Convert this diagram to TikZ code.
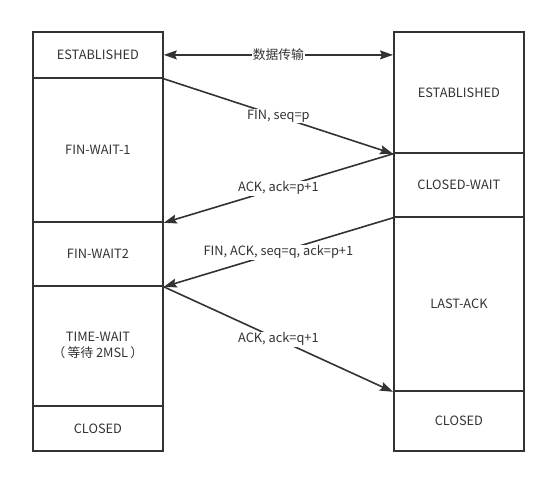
\documentclass[tikz,border=0pt]{standalone}
\usepackage{fontspec}
\setmainfont{Noto Sans CJK SC}
\usetikzlibrary{arrows.meta}
\definecolor{ink}{HTML}{333333}
\begin{document}
\begin{tikzpicture}[x=1pt,y=-1pt,
  state/.style={draw=ink,line width=1.8pt,rectangle,minimum width=130pt,anchor=north west,inner sep=0pt,text=ink,font=\fontsize{12.8}{16}\selectfont,align=center},
  msg/.style={draw=ink,line width=1.6pt,-{Stealth[length=13pt,width=9pt,inset=2pt]}},
  lbl/.style={fill=white,inner sep=1pt,text=ink,font=\fontsize{12.8}{16}\selectfont,midway}]
\useasboundingbox (0,0) rectangle (553,477);
% left column
\node[state,minimum height=46pt] (l1) at (32,31) {ESTABLISHED};
\node[state,minimum height=144pt] (l2) at (32,77) {FIN-WAIT-1};
\node[state,minimum height=64pt] (l3) at (32,221) {FIN-WAIT2};
\node[state,minimum height=120pt] (l4) at (32,285) {TIME-WAIT\\（\,等待 2MSL\,）};
\node[state,minimum height=45pt] (l5) at (32,405) {CLOSED};
% right column
\node[state,minimum height=121pt] (r1) at (393,31) {ESTABLISHED};
\node[state,minimum height=64pt] (r2) at (393,152) {CLOSED-WAIT};
\node[state,minimum height=174pt] (r3) at (393,216) {LAST-ACK};
\node[state,minimum height=60pt] (r4) at (393,390) {CLOSED};
% messages
\draw[msg,{Stealth[length=13pt,width=9pt,inset=2pt]}-{Stealth[length=13pt,width=9pt,inset=2pt]}] (l1.east) -- (l1.east -| r1.west) node[lbl] {数据传输};
\draw[msg] (l1.south east) -- (r1.south west) node[lbl] {FIN, seq=p};
\draw[msg] (r1.south west) -- (l2.south east) node[lbl] {ACK, ack=p+1};
\draw[msg] (r2.south west) -- (l3.south east) node[lbl] {FIN, ACK, seq=q, ack=p+1};
\draw[msg] (l3.south east) -- (r3.south west) node[lbl] {ACK, ack=q+1};
\end{tikzpicture}
\end{document}
